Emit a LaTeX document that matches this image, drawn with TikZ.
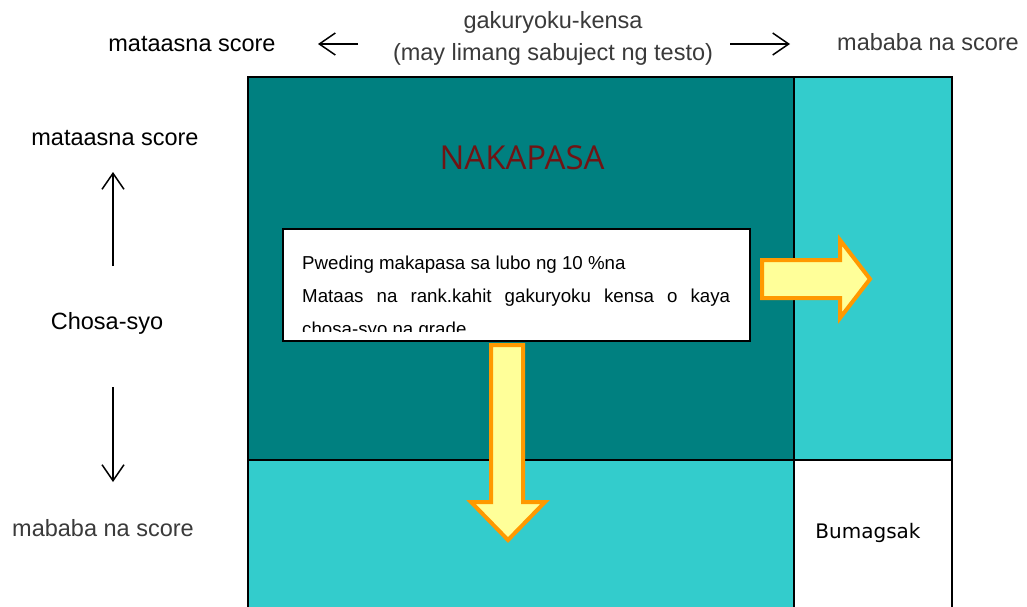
\documentclass[tikz,border=0pt]{standalone}
\usepackage{fontspec}
\setmainfont{Liberation Sans}
\newfontfamily\opensans{Open Sans}
\newfontfamily\dejavu{DejaVu Sans}
\usetikzlibrary{arrows.meta}
\definecolor{darkteal}{HTML}{008080}
\definecolor{lightteal}{HTML}{33CCCC}
\definecolor{arrowfill}{HTML}{FFFF99}
\definecolor{arroworange}{HTML}{FF9900}
\definecolor{passred}{HTML}{701414}
\definecolor{labelgray}{HTML}{3A3A3A}
\tikzset{
  lbl/.style={inner sep=0pt, font=\fontsize{23.5}{26}\selectfont, text=black},
  graylbl/.style={lbl, text=labelgray},
  thinarrow/.style={-{Straight Barb[length=16pt,width=22pt,line width=1.5pt]}, line width=1.5pt},
  blockarrow/.style={fill=arrowfill, draw=arroworange, line width=4pt, line join=miter},
  grid/.style={draw=black, line width=2pt}
}
\begin{document}
\begin{tikzpicture}[x=1pt,y=-1pt]
\useasboundingbox (0,0) rectangle (1027,607);
\fill[white] (0,0) rectangle (1027,607);
% regions
\fill[darkteal] (248,77) rectangle (794,460);
\fill[lightteal] (794,77) rectangle (952,460);
\fill[lightteal] (248,460) rectangle (794,607);
\draw[grid] (248,607) -- (248,77) -- (952,77) -- (952,607);
\draw[grid] (794,77) -- (794,607);
\draw[grid] (248,460) -- (952,460);
% top labels
\node[lbl] (topL) at (192,44) {mataasna score};
\node[graylbl] (topC1) at (553,22) {gakuryoku-kensa};
\node[graylbl] (topC2) at (553,54) {(may limang sabuject ng testo)};
\node[graylbl] (topR) at (928,42) {mababa na score};
\coordinate (tla1) at (358,44);
\coordinate (tla2) at (318,44);
\coordinate (tra1) at (730,44);
\coordinate (tra2) at (790,44);
\draw[thinarrow] (tla1) -- (tla2);
\draw[thinarrow] (tra1) -- (tra2);
% left labels
\node[lbl] (leftT) at (115,138) {mataasna score};
\node[lbl] (leftM) at (107,323) {Chosa-syo};
\node[graylbl] (leftB) at (103,528) {mababa na score};
\coordinate (lua1) at (113,266);
\coordinate (lua2) at (113,172);
\coordinate (lda1) at (113,387);
\coordinate (lda2) at (113,482);
\draw[thinarrow] (lua1) -- (lua2);
\draw[thinarrow] (lda1) -- (lda2);
% title
\node[inner sep=0pt, text=passred, font=\opensans\fontsize{33}{36}\selectfont] (pass) at (522,158) {NAKAPASA};
\node[inner sep=0pt, font=\dejavu\fontsize{20}{22}\selectfont] (fail) at (868,533) {Bumagsak};
% arrows
\draw[blockarrow] (762,260) -- (840,260) -- (840,240) -- (870,279) -- (840,318) -- (840,298) -- (762,298) -- cycle;
% text box
\node[draw=black, line width=2pt, fill=white, minimum width=467pt, minimum height=112pt, inner sep=0pt] (box) at (516.5,285) {};
\begin{scope}
\clip (284,230) rectangle (749,331);
\node[inner sep=0pt, anchor=north west, text width=428pt, align=justify, font=\fontsize{18.7}{33}\selectfont] (boxtext) at (302,256)
{Pweding makapasa sa lubo ng 10 \%na\\
Mataas na rank.kahit gakuryoku kensa o kaya chosa-syo na grade};
\end{scope}
\draw[blockarrow] (491,345) -- (523,345) -- (523,502) -- (545,502) -- (508,540) -- (471,502) -- (491,502) -- cycle;
\end{tikzpicture}
\end{document}
